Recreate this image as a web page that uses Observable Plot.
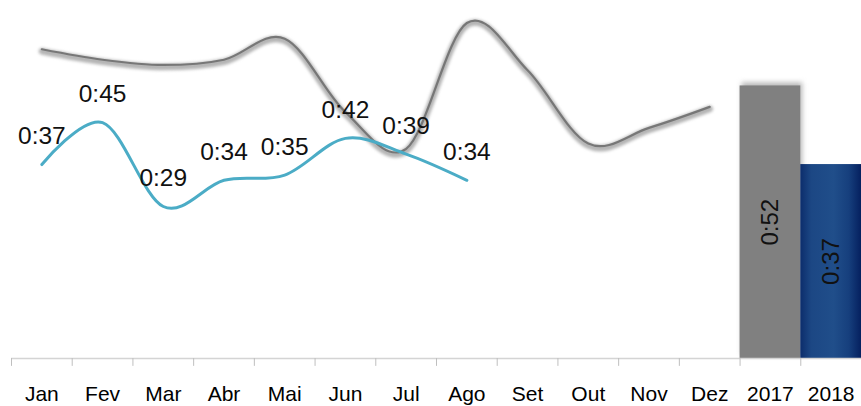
<!DOCTYPE html>
<html>
<head>
<meta charset="utf-8">
<script src="https://cdn.jsdelivr.net/npm/d3@7"></script>
<script src="https://cdn.jsdelivr.net/npm/@observablehq/plot@0.6"></script>
<style>
  html, body { margin: 0; padding: 0; background: #fff; }
</style>
</head>
<body>
<div id="chart"></div>
<script>
// Categories along the x axis: twelve months plus the two yearly averages
const categories = ["Jan", "Fev", "Mar", "Abr", "Mai", "Jun", "Jul", "Ago", "Set", "Out", "Nov", "Dez", "2017", "2018"];

// Monthly average durations, in minutes
const months2017 = ["Jan", "Fev", "Mar", "Abr", "Mai", "Jun", "Jul", "Ago", "Set", "Out", "Nov", "Dez"];
const minutes2017 = [59, 57, 56, 57, 61, 47, 40, 64, 55, 41, 44, 48];
const months2018 = ["Jan", "Fev", "Mar", "Abr", "Mai", "Jun", "Jul", "Ago"];
const minutes2018 = [37, 45, 29, 34, 35, 42, 39, 34];

// Yearly averages, in minutes
const years = ["2017", "2018"];
const yearMinutes = [52, 37];

const fmt = (m) => `${Math.floor(m / 60)}:${String(Math.round(m % 60)).padStart(2, "0")}`;

const line2017 = months2017.map((month, i) => ({month, minutes: minutes2017[i]}));
const line2018 = months2018.map((month, i) => ({month, minutes: minutes2018[i]}));
const yearly = years.map((year, i) => ({year, minutes: yearMinutes[i]}));

const W = 861, H = 406, ML = 11, MB = 48;
const halfBand = (W - ML) / categories.length / 2;
const labelFont = "'Liberation Sans', Arial, sans-serif";

const chart = Plot.plot({
  width: W,
  height: H,
  marginLeft: ML,
  marginRight: 0,
  marginTop: 0,
  marginBottom: MB,
  style: {
    fontFamily: "'Liberation Sans', Arial, sans-serif",
    fontSize: "21px",
    color: "#000",
    background: "#fff"
  },
  x: {type: "band", domain: categories, padding: 0, round: false, tickSize: 0, tickPadding: 28, label: null},
  y: {domain: [0, 68.3], axis: null},
  marks: [
    // soft shadow behind the 2017 bar
    Plot.barY(yearly.slice(0, 1), {x: "year", y: "minutes", fill: "#b8b8b8", dx: 2, dy: -3}),
    // yearly average bars
    Plot.barY(yearly, {x: "year", y: "minutes", fill: (d) => d.year === "2017" ? "#808080" : "url(#navyGradient)"}),
    Plot.text(yearly, {x: "year", y: (d) => d.minutes / 2, text: (d) => fmt(d.minutes), rotate: -90,
      fontSize: 24, fontFamily: labelFont, fill: "#111"}),
    // baseline and tick marks at band boundaries
    Plot.ruleY([0], {stroke: "#d4d4d4", strokeWidth: 1.5}),
    Plot.ruleX(categories, {x: (d) => d, y1: 0, y2: -1.5, dx: -halfBand, stroke: "#bfbfbf"}),
    // 2017 monthly line with its soft shadow
    Plot.line(line2017, {x: "month", y: "minutes", curve: "cardinal", stroke: "#b4b4b4", strokeWidth: 6.5, dy: 2}),
    Plot.line(line2017, {x: "month", y: "minutes", curve: "cardinal", stroke: "#777777", strokeWidth: 2.2}),
    // 2018 monthly line with value labels
    Plot.line(line2018, {x: "month", y: "minutes", curve: "cardinal", stroke: "#4bacc6", strokeWidth: 3}),
    Plot.text(line2018, {x: "month", y: "minutes", text: (d) => fmt(d.minutes), dy: -28,
      fontSize: 24.5, fontFamily: labelFont, fill: "#111"})
  ]
});

// gradient fill for the 2018 bar
const defs = d3.select(chart).insert("defs", ":first-child");
const grad = defs.append("linearGradient").attr("id", "navyGradient")
  .attr("x1", "0").attr("x2", "1").attr("y1", "0").attr("y2", "0");
[[0, "#0c2d6c"], [0.18, "#1c4784"], [0.55, "#204e8a"], [0.8, "#163f7d"], [1, "#05205f"]]
  .forEach(([o, c]) => grad.append("stop").attr("offset", o).attr("stop-color", c));

// blur the shadow marks
const barGroups = chart.querySelectorAll('g[aria-label="bar"]');
if (barGroups[0]) barGroups[0].style.filter = "blur(2.5px)";
const lineGroups = chart.querySelectorAll('g[aria-label="line"]');
if (lineGroups[0]) lineGroups[0].style.filter = "blur(1.6px)";

document.getElementById("chart").appendChild(chart);
</script>
</body>
</html>
